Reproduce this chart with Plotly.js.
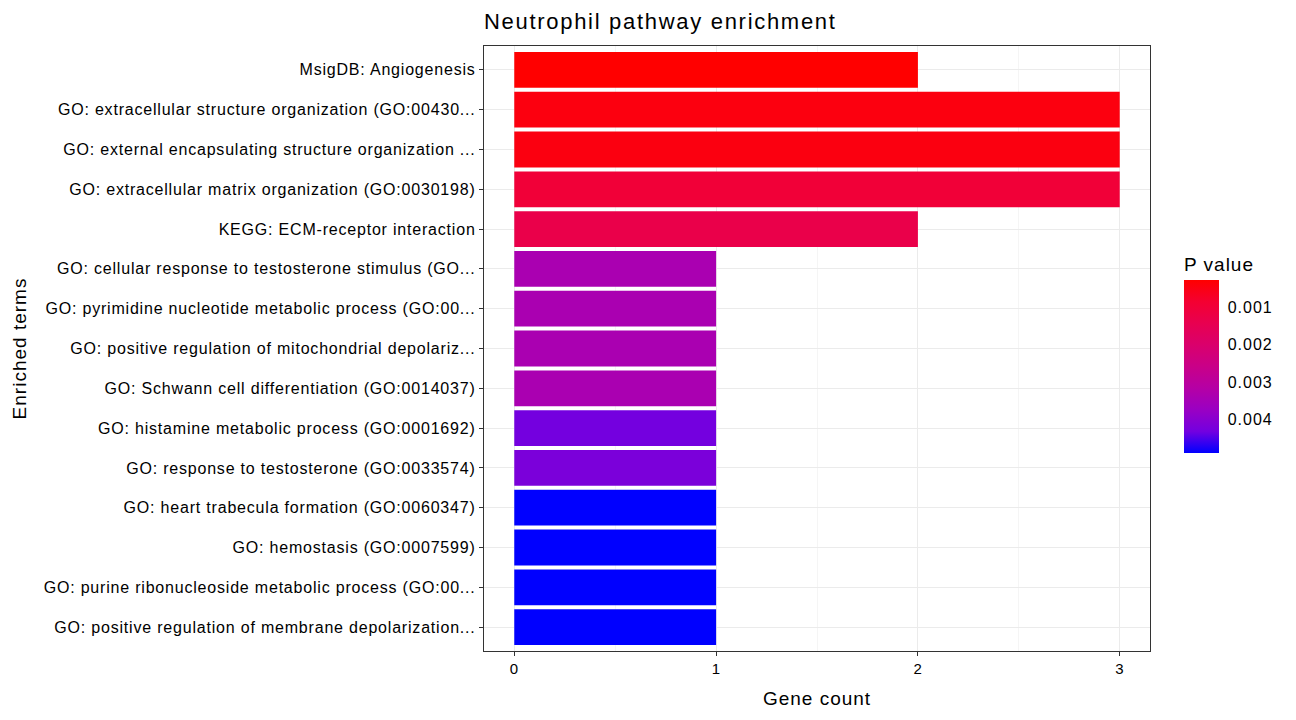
<!DOCTYPE html>
<html>
<head>
<meta charset="utf-8">
<script src="https://cdn.plot.ly/plotly-3.0.1.min.js"></script>
<style>
html,body{margin:0;padding:0;background:#fff;}
#chart{width:1296px;height:720px;}
#chart .ytick text{letter-spacing:0.8px;}
#chart .xtick text{letter-spacing:0.5px;}
#chart .gtitle{letter-spacing:1.7px;}
#chart .xtitle, #chart .ytitle{letter-spacing:1px;}
#chart .colorbar text{letter-spacing:1px;}
</style>
</head>
<body>
<div id="chart"></div>
<script>
var terms = [
  "MsigDB: Angiogenesis",
  "GO: extracellular structure organization (GO:00430...",
  "GO: external encapsulating structure organization ...",
  "GO: extracellular matrix organization (GO:0030198)",
  "KEGG: ECM-receptor interaction",
  "GO: cellular response to testosterone stimulus (GO...",
  "GO: pyrimidine nucleotide metabolic process (GO:00...",
  "GO: positive regulation of mitochondrial depolariz...",
  "GO: Schwann cell differentiation (GO:0014037)",
  "GO: histamine metabolic process (GO:0001692)",
  "GO: response to testosterone (GO:0033574)",
  "GO: heart trabecula formation (GO:0060347)",
  "GO: hemostasis (GO:0007599)",
  "GO: purine ribonucleoside metabolic process (GO:00...",
  "GO: positive regulation of membrane depolarization..."
];
var geneCount = [2, 3, 3, 3, 2, 1, 1, 1, 1, 1, 1, 1, 1, 1, 1];
var pValue = [0.00027, 0.00045, 0.00046, 0.00098, 0.00132, 0.0034, 0.0034, 0.0034, 0.0034, 0.0043, 0.0042, 0.0049, 0.0049, 0.0049, 0.0049];
var colorbarTicks = [0.001, 0.002, 0.003, 0.004];

var FONT = "Liberation Sans, Arial, sans-serif";

// colour axis runs downward (small P at top, red), so the colour value is -P
var colorValue = pValue.map(function(p){ return -p; });

var trace = {
  type: "bar",
  orientation: "h",
  x: geneCount,
  y: terms,
  width: 0.9,
  marker: {
    color: colorValue,
    colorscale: [
      [0, "#0000FF"], [0.125, "#7300E0"], [0.25, "#9A00C3"], [0.375, "#B500A5"],
      [0.5, "#C90088"], [0.625, "#DA006C"], [0.75, "#E80050"], [0.875, "#F40031"], [1, "#FF0000"]
    ],
    showscale: true,
    line: {width: 0},
    colorbar: {
      title: {text: "P value", side: "top", font: {size: 19, family: FONT, color: "#000"}},
      tickvals: colorbarTicks.map(function(v){return -v;}),
      ticktext: colorbarTicks.map(function(v){return v.toFixed(3);}),
      ticks: "outside",
      ticklen: 6,
      tickcolor: "rgba(0,0,0,0)",
      tickwidth: 1,
      tickfont: {size: 16, family: FONT, color: "#000"},
      thickness: 35,
      thicknessmode: "pixels",
      len: 199,
      lenmode: "pixels",
      x: 1.051,
      xanchor: "left",
      xpad: 0,
      y: (651 - 453) / 605,
      yanchor: "bottom",
      ypad: 0,
      outlinewidth: 0
    }
  },
  hoverinfo: "x+y"
};

var layout = {
  width: 1296,
  height: 720,
  margin: {l: 484, r: 146, t: 46, b: 69},
  paper_bgcolor: "#fff",
  plot_bgcolor: "#fff",
  font: {family: FONT, color: "#000"},
  title: {
    text: "Neutrophil pathway enrichment",
    x: 0, xanchor: "left", xref: "paper",
    y: 1 - 21/720, yanchor: "middle",
    font: {size: 22, family: FONT, color: "#000"}
  },
  xaxis: {
    range: [-0.15, 3.15],
    tickvals: [0, 1, 2, 3],
    ticks: "outside",
    ticklen: 4,
    tickcolor: "#333",
    tickfont: {size: 15, family: FONT, color: "#000"},
    showgrid: true,
    gridcolor: "#EBEBEB",
    gridwidth: 1.1,
    minor: {dtick: 0.5, tick0: 0, showgrid: true, gridcolor: "#F3F3F3", gridwidth: 0.8, ticks: ""},
    zeroline: false,
    showline: true,
    mirror: true,
    linecolor: "#333",
    linewidth: 1.2,
    title: {text: "Gene count", font: {size: 19, family: FONT, color: "#000"}, standoff: 15}
  },
  yaxis: {
    type: "category",
    categoryorder: "array",
    categoryarray: terms,
    range: [14.6, -0.6],
    ticks: "outside",
    ticklen: 4,
    tickcolor: "#333",
    tickfont: {size: 16, family: FONT, color: "#000"},
    showgrid: true,
    gridcolor: "#EBEBEB",
    gridwidth: 1.1,
    zeroline: false,
    showline: true,
    mirror: true,
    linecolor: "#333",
    linewidth: 1.2,
    title: {text: "Enriched terms", font: {size: 19, family: FONT, color: "#000"}, standoff: 54}
  },
  showlegend: false
};

Plotly.newPlot("chart", [trace], layout, {displayModeBar: false, staticPlot: true});
</script>
</body>
</html>
